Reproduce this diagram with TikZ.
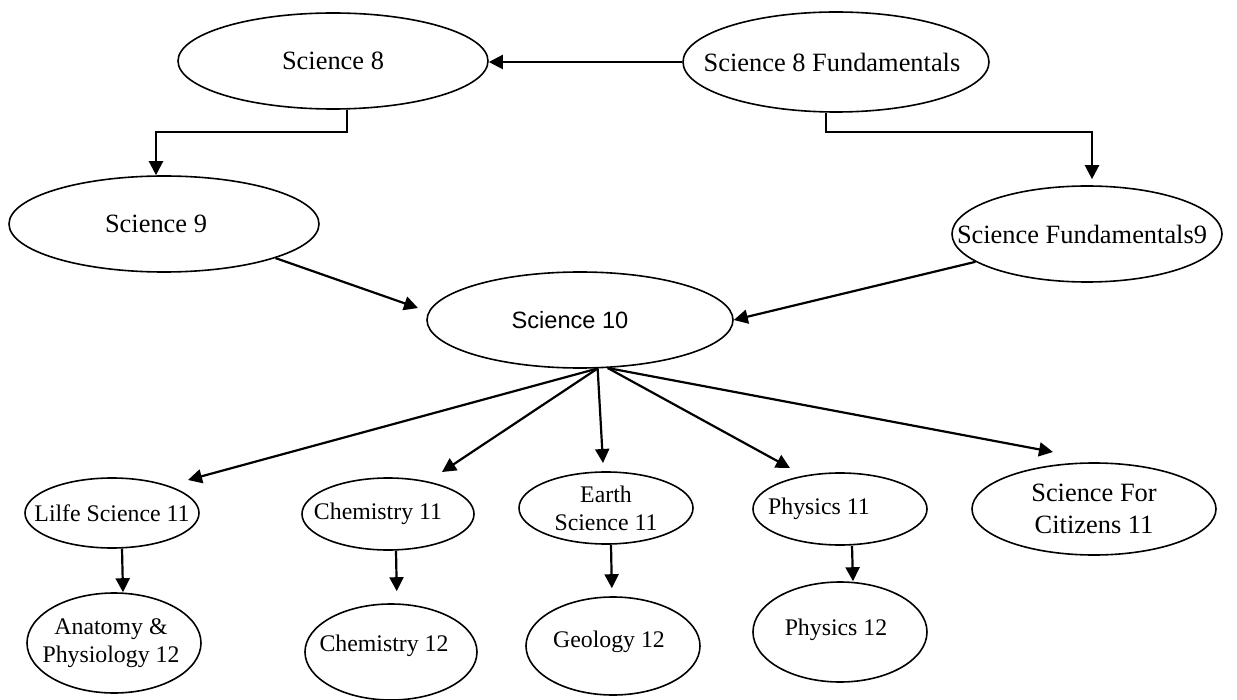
\documentclass[tikz,border=0pt]{standalone}
\usepackage{fontspec}
\setmainfont{Liberation Serif}
\newfontfamily\arialfont{Liberation Sans}
\usetikzlibrary{shapes.geometric,arrows.meta}

\begin{document}
\begin{tikzpicture}[
x=0.5pt, y=-0.5pt,
course/.style={ellipse, draw=black, line width=0.8pt, inner sep=0pt},
bigtext/.style={font=\fontsize{13.2}{16}\selectfont, align=center, inner sep=0pt},
smalltext/.style={font=\fontsize{11.9}{14}\selectfont, align=center, inner sep=0pt},
sanstext/.style={font=\arialfont\fontsize{11.8}{14}\selectfont, inner sep=0pt},
link/.style={-{Triangle[length=7pt, width=7pt]}, line width=1.1pt},
]
\fill[white] (0,0) rectangle (1237,700);
\useasboundingbox (0,0) rectangle (1237,700);

% grade 8 to 10
\node[course, minimum width=155pt, minimum height=48pt,
	label={[bigtext]center:Science 8}] (s8) at (333,61) {};
\node[course, minimum width=153pt, minimum height=50pt,
	label={[bigtext, xshift=-2pt]center:Science 8 Fundamentals}] (s8f) at (836,62) {};
\node[course, minimum width=155pt, minimum height=48pt,
	label={[bigtext, xshift=-4pt]center:Science 9}] (s9) at (164,224) {};
\node[course, minimum width=135pt, minimum height=48pt,
	label={[bigtext, xshift=-2.5pt]center:Science Fundamentals9}] (s9f) at (1087,234) {};
\node[course, minimum width=153pt, minimum height=48pt,
	label={[sanstext, xshift=-5pt]center:Science 10}] (s10) at (580,320) {};

% grade 11
\node[course, minimum width=87pt, minimum height=35pt,
	label={[smalltext]center:Lilfe Science 11}] (ls11) at (112,513) {};
\node[course, minimum width=86pt, minimum height=36pt,
	label={[smalltext, xshift=-5pt]center:Chemistry 11}] (ch11) at (388,514) {};
\node[course, minimum width=87pt, minimum height=36pt,
	label={[smalltext]center:Earth\\Science 11}] (es11) at (606,508) {};
\node[course, minimum width=87pt, minimum height=36pt,
	label={[smalltext, xshift=-10.5pt]center:Physics 11}] (ph11) at (840,509) {};
\node[course, minimum width=122pt, minimum height=46pt,
	label={[bigtext]center:Science For\\Citizens 11}] (sfc11) at (1094,509) {};

% grade 12
\node[course, minimum width=87pt, minimum height=50pt,
	label={[smalltext, xshift=-1.5pt]center:Anatomy \&\\Physiology 12}] (ap12) at (114,643) {};
\node[course, minimum width=86pt, minimum height=48pt,
	label={[smalltext, xshift=-3.5pt, yshift=3pt]center:Chemistry 12}] (ch12) at (391,652) {};
\node[course, minimum width=87pt, minimum height=49pt,
	label={[smalltext, xshift=-2pt, yshift=2pt]center:Geology 12}] (ge12) at (613,646) {};
\node[course, minimum width=87pt, minimum height=50pt,
	label={[smalltext, xshift=-2pt, yshift=1pt]center:Physics 12}] (ph12) at (840,632) {};

% arrow tips that stop short of their ellipse
\coordinate (t9) at (418,308);
\coordinate (tls) at (188,480);
\coordinate (tch) at (442,472);
\coordinate (tes) at (603,463);
\coordinate (tph) at (790,468);
\coordinate (tsfc) at (1053,452);

\draw[link] (s8f.west) -- (s8.east |- s8f.west);
\draw[link] ([xshift=7pt]s8.south) -- ++(0,-11pt) -| ([xshift=-4pt]s9.north);
\draw[link, shorten >=3pt] ([xshift=-5pt]s8f.south) -- ++(0,-9.5pt) -| ([xshift=2.5pt]s9f.north);
\draw[link] (s9.-17) -- (t9);
\draw[link] (s9f.194) -- (s10.east);

\draw[link] (s10.-70) -- (tls);
\draw[link] (s10.-70) -- (tch);
\draw[link] (s10.-70) -- (tes);
\draw[link] (s10.-60) -- (tph);
\draw[link] (s10.-60) -- (tsfc);

\draw[link] ([xshift=5pt]ls11.south) -- ([xshift=4.5pt]ap12.north);
\draw[link, shorten >=6pt] ([xshift=4pt]ch11.south) -- ([xshift=3pt]ch12.north);
\draw[link, shorten >=4pt] ([xshift=2.5pt]es11.south) -- ([xshift=-0.5pt]ge12.north);
\draw[link] ([xshift=6pt]ph11.south) -- ([xshift=6.5pt]ph12.north);
\end{tikzpicture}
\end{document}
